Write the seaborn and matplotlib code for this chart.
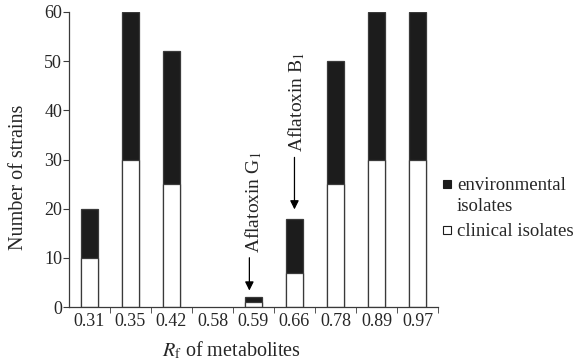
import matplotlib
matplotlib.use("Agg")
import matplotlib.pyplot as plt
import seaborn as sns
from matplotlib.patches import Rectangle

# values
rf_labels = ["0.31", "0.35", "0.42", "0.58", "0.59", "0.66", "0.78", "0.89", "0.97"]
clinical = [10, 30, 25, 0, 1, 7, 25, 30, 30]
environmental = [10, 30, 27, 0, 1, 11, 25, 30, 30]
total = [c + e for c, e in zip(clinical, environmental)]

sns.set_style("ticks")
plt.rcParams["font.family"] = ["Liberation Serif", "DejaVu Serif"]
plt.rcParams["mathtext.fontset"] = "stix"

edge = "#3a3a3a"
fig = plt.figure(figsize=(5.77, 3.63), dpi=100)
ax = fig.add_axes([0.1196, 0.154, 0.6394, 0.813])

# stacked look: full bar in black, clinical part painted white over it
sns.barplot(x=rf_labels, y=total, color="#1c1c1c", width=0.42,
            edgecolor=edge, linewidth=0.9, saturation=1, ax=ax)
sns.barplot(x=rf_labels, y=clinical, color="white", width=0.42,
            edgecolor=edge, linewidth=0.9, saturation=1, ax=ax)
for p in ax.patches:
    if p.get_height() == 0:
        p.set_visible(False)

ax.set_xlim(-0.5, len(rf_labels) - 0.5)
ax.set_ylim(0, 60)
ax.set_yticks(range(0, 61, 10))
ax.set_xticks(range(len(rf_labels)))
ax.set_xticklabels(rf_labels)
ax.tick_params(axis="x", which="major", length=0, labelsize=13, pad=4)
ax.set_xticks([i + 0.5 for i in range(len(rf_labels))], minor=True)
ax.tick_params(axis="x", which="minor", length=4, direction="out", color=edge)
ax.tick_params(axis="y", length=4, labelsize=13, color=edge, pad=1)
sns.despine(ax=ax)
for s in ["left", "bottom"]:
    ax.spines[s].set_color(edge)
    ax.spines[s].set_linewidth(0.9)

ax.set_ylabel("Number of strains", fontsize=14.5)
ax.yaxis.set_label_coords(-0.112, 0.44)
ax.set_xlabel(r"$R_\mathrm{f}$ of metabolites", fontsize=14.5)
ax.xaxis.set_label_coords(0.44, -0.11)

# aflatoxin markers
arrow = dict(arrowstyle="-|>", color="black", lw=0.9, mutation_scale=13)
ax.annotate("", xy=(3.9, 2.8), xytext=(3.9, 10.6), arrowprops=arrow)
ax.text(4.0, 11.0, r"Aflatoxin G$_1$", rotation=90, ha="center", va="bottom", fontsize=14)
ax.annotate("", xy=(5, 19.3), xytext=(5, 31.0), arrowprops=arrow)
ax.text(5.05, 31.6, r"Aflatoxin B$_1$", rotation=90, ha="center", va="bottom", fontsize=14)

# legend, drawn by hand so the swatch sits beside the first text line
sw = 8 / 577
fig.patches.append(Rectangle((443 / 577, 1 - 188 / 363), sw, 8 / 363,
                             transform=fig.transFigure, facecolor="#1c1c1c",
                             edgecolor="#1c1c1c", lw=0.8))
fig.patches.append(Rectangle((443 / 577, 1 - 234 / 363), sw, 8 / 363,
                             transform=fig.transFigure, facecolor="white",
                             edgecolor="#1c1c1c", lw=0.8))
fig.text(457 / 577, 1 - 196 / 363, "environmental\nisolates", fontsize=13.5,
         va="center", ha="left", linespacing=1.3)
fig.text(457 / 577, 1 - 231 / 363, "clinical isolates", fontsize=13.5,
         va="center", ha="left")

fig.savefig("out.png", dpi=100)
